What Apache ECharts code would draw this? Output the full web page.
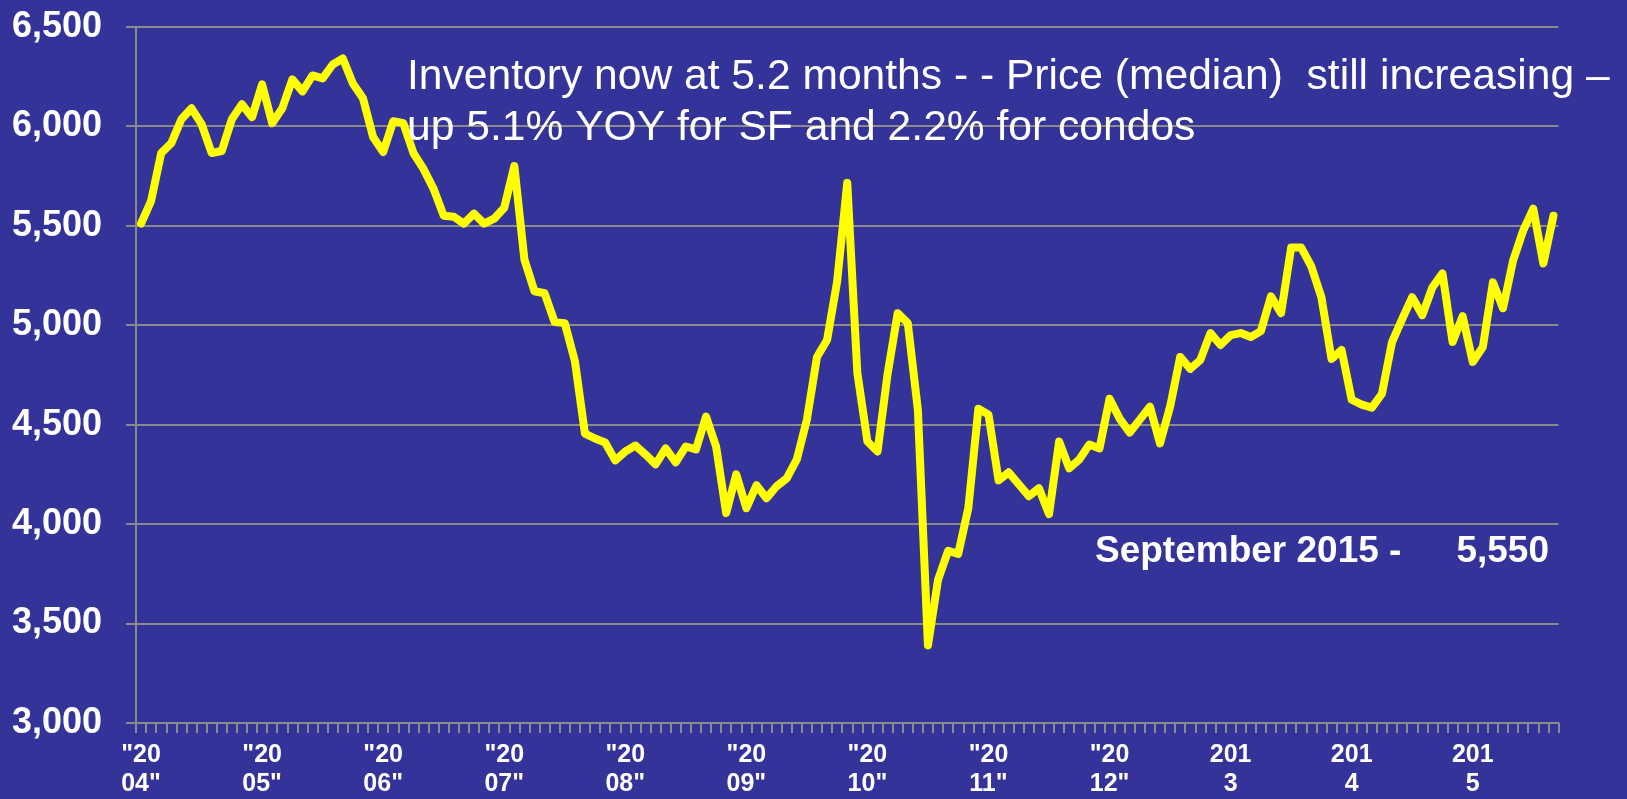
<!DOCTYPE html>
<html>
<head>
<meta charset="utf-8">
<title>Inventory</title>
<script src="https://cdn.jsdelivr.net/npm/echarts@6/dist/echarts.min.js"></script>
<style>
  html, body { margin: 0; padding: 0; background: #333399; }
  #chart { width: 1627px; height: 799px; }
</style>
</head>
<body>
<div id="chart"></div>
<script>
// Monthly inventory counts, Jan 2004 – Sep 2015
const inv2004 = [5510, 5625, 5865, 5915, 6035, 6090, 6010, 5865, 5875, 6035, 6110, 6045];
const inv2005 = [6210, 6015, 6090, 6235, 6175, 6255, 6240, 6310, 6340, 6215, 6140, 5945];
const inv2006 = [5870, 6025, 6015, 5865, 5785, 5685, 5550, 5545, 5510, 5560, 5510, 5535];
const inv2007 = [5590, 5800, 5330, 5170, 5160, 5015, 5010, 4820, 4455, 4430, 4410, 4320];
const inv2008 = [4365, 4395, 4350, 4300, 4380, 4310, 4390, 4375, 4540, 4390, 4055, 4250];
const inv2009 = [4080, 4195, 4130, 4190, 4230, 4325, 4525, 4840, 4925, 5220, 5715, 4760];
const inv2010 = [4415, 4365, 4755, 5060, 5010, 4575, 3390, 3720, 3865, 3850, 4080, 4580];
const inv2011 = [4550, 4220, 4260, 4200, 4140, 4180, 4050, 4415, 4280, 4325, 4400, 4380];
const inv2012 = [4630, 4530, 4460, 4525, 4590, 4405, 4590, 4840, 4780, 4825, 4960, 4900];
const inv2013 = [4950, 4960, 4940, 4970, 5145, 5060, 5390, 5390, 5295, 5140, 4830, 4875];
const inv2014 = [4625, 4600, 4585, 4655, 4915, 5030, 5140, 5050, 5190, 5260, 4915, 5045];
const inv2015 = [4815, 4890, 5215, 5085, 5325, 5475, 5585, 5310, 5550];

const years = [2004, 2005, 2006, 2007, 2008, 2009, 2010, 2011, 2012, 2013, 2014, 2015];
const yearTickLabels = ['"20\n04"', '"20\n05"', '"20\n06"', '"20\n07"', '"20\n08"', '"20\n09"',
                        '"20\n10"', '"20\n11"', '"20\n12"', '201\n3', '201\n4', '201\n5'];
const yTicks = [3000, 3500, 4000, 4500, 5000, 5500, 6000, 6500];

const noteLine1 = 'Inventory now at 5.2 months - - Price (median)  still increasing \u2013';
const noteLine2 = 'up 5.1% YOY for SF and 2.2% for condos';
const latestLabel = 'September 2015 -';

const values = [].concat(inv2004, inv2005, inv2006, inv2007, inv2008, inv2009,
                         inv2010, inv2011, inv2012, inv2013, inv2014, inv2015);
const months = values.map((_, i) => {
  const y = years[Math.floor(i / 12)];
  const m = (i % 12) + 1;
  return y + '-' + (m < 10 ? '0' + m : m);
});

const fmt = v => v.toLocaleString('en-US');
const FONT = '"Liberation Sans", Arial, Helvetica, sans-serif';
const GRAY = '#8a8a8a';

const chart = echarts.init(document.getElementById('chart'), null, { renderer: 'canvas' });

chart.setOption({
  backgroundColor: '#333399',
  animation: false,
  grid: { left: 136, right: 68.5, top: 26.7, bottom: 74.7, containLabel: false },
  xAxis: {
    type: 'category',
    data: months,
    boundaryGap: true,
    axisLine: { show: true, lineStyle: { color: GRAY, width: 2 } },
    axisTick: { show: true, interval: 0, length: 10, lineStyle: { color: GRAY, width: 2 } },
    axisLabel: {
      interval: i => i % 12 === 0,
      formatter: (val, idx) => yearTickLabels[Math.floor(idx / 12)],
      color: '#ffffff',
      fontFamily: FONT,
      fontWeight: 'bold',
      fontSize: 25,
      lineHeight: 29,
      margin: 18
    },
    splitLine: { show: false }
  },
  yAxis: {
    type: 'value',
    min: yTicks[0],
    max: yTicks[yTicks.length - 1],
    interval: 500,
    axisLine: { show: true, lineStyle: { color: GRAY, width: 2 } },
    axisTick: { show: true, length: 10, lineStyle: { color: GRAY, width: 2 } },
    axisLabel: {
      formatter: v => fmt(v),
      color: '#ffffff',
      fontFamily: FONT,
      fontWeight: 'bold',
      fontSize: 36,
      margin: 34
    },
    splitLine: { show: true, lineStyle: { color: GRAY, width: 2 } }
  },
  series: [{
    type: 'line',
    data: values,
    showSymbol: false,
    symbol: 'none',
    lineStyle: { color: '#ffff00', width: 8, cap: 'round', join: 'round' },
    z: 3
  }],
  graphic: [
    {
      type: 'text', left: 407, top: 56, z: 10,
      style: { text: noteLine1, fill: '#ffffff', font: 'normal 42.6px ' + FONT }
    },
    {
      type: 'text', left: 407, top: 107, z: 10,
      style: { text: noteLine2, fill: '#ffffff', font: 'normal 42.6px ' + FONT }
    },
    {
      type: 'text', left: 1095, top: 533, z: 10,
      style: { text: latestLabel, fill: '#ffffff', font: 'bold 37px ' + FONT }
    },
    {
      type: 'text', right: 78, top: 533, z: 10,
      style: { text: fmt(values[values.length - 1]), fill: '#ffffff', font: 'bold 37px ' + FONT }
    }
  ]
});
</script>
</body>
</html>
